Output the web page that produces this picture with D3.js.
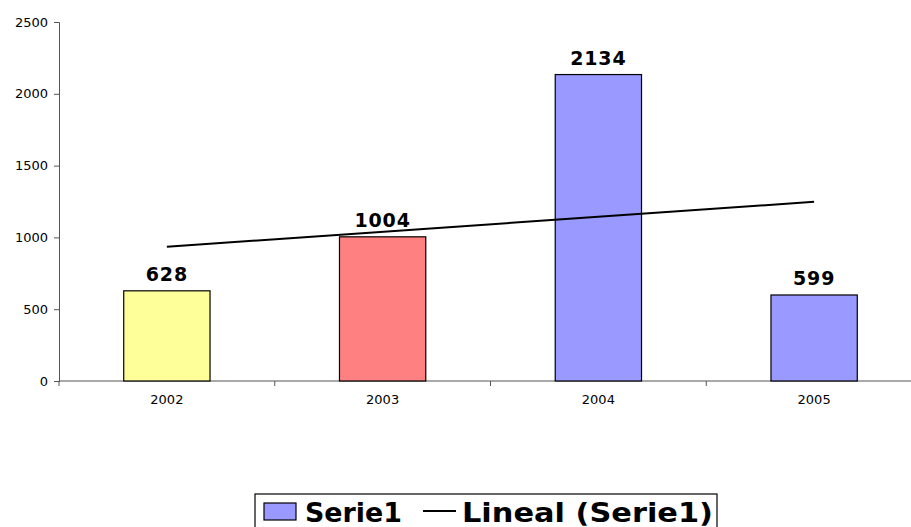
<!DOCTYPE html>
<html>
<head>
<meta charset="utf-8">
<script src="https://cdn.jsdelivr.net/npm/d3@7"></script>
<style>
  body { margin: 0; background: #fff; }
  svg { display: block; }
</style>
</head>
<body>
<div id="chart"></div>
<script>
  // data
  var years = ['2002', '2003', '2004', '2005'];
  var values = [628, 1004, 2134, 599];
  var barColors = ['#ffff99', '#ff8080', '#9999ff', '#9999ff'];
  var yTicks = [0, 500, 1000, 1500, 2000, 2500];
  var seriesName = 'Serie1';
  var trendName = 'Lineal (Serie1)';

  var width = 911, height = 527;
  var plotLeft = 59, plotTop = 22, plotRight = 922, plotBottom = 381;

  var svg = d3.select('#chart').append('svg')
      .attr('width', width)
      .attr('height', height);

  var x = d3.scaleBand().domain(years).range([plotLeft, plotRight])
      .paddingInner(0.6).paddingOuter(0.3);
  var y = d3.scaleLinear().domain([0, 2500]).range([plotBottom, plotTop]);

  // y axis
  var yAxis = svg.append('g')
      .attr('transform', 'translate(' + plotLeft + ',0)')
      .call(d3.axisLeft(y).tickValues(yTicks).tickFormat(d3.format('d'))
        .tickSize(5).tickPadding(6));
  yAxis.select('.domain').attr('stroke', '#555');
  yAxis.selectAll('.tick line').attr('stroke', '#555');
  yAxis.selectAll('text')
      .attr('font-family', 'DejaVu Sans')
      .attr('font-size', 13)
      .attr('fill', '#000');

  // x axis line + ticks at band boundaries
  svg.append('line')
      .attr('x1', plotLeft).attr('x2', width)
      .attr('y1', plotBottom).attr('y2', plotBottom)
      .attr('stroke', '#555');
  var step = x.step();
  var bounds = d3.range(years.length + 1).map(function(i) { return plotLeft + i * step; });
  svg.selectAll('.xtick').data(bounds).enter().append('line')
      .attr('class', 'xtick')
      .attr('x1', function(d) { return d; }).attr('x2', function(d) { return d; })
      .attr('y1', plotBottom).attr('y2', plotBottom + 5)
      .attr('stroke', '#555');
  svg.selectAll('.xlabel').data(years).enter().append('text')
      .attr('class', 'xlabel')
      .attr('x', function(d) { return x(d) + x.bandwidth() / 2; })
      .attr('y', plotBottom + 23)
      .attr('text-anchor', 'middle')
      .attr('font-family', 'DejaVu Sans')
      .attr('font-size', 13)
      .text(function(d) { return d; });

  // bars
  svg.selectAll('.bar').data(values).enter().append('rect')
      .attr('class', 'bar')
      .attr('x', function(d, i) { return x(years[i]); })
      .attr('y', function(d) { return y(d); })
      .attr('width', x.bandwidth())
      .attr('height', function(d) { return plotBottom - y(d); })
      .attr('fill', function(d, i) { return barColors[i]; })
      .attr('stroke', '#000')
      .attr('stroke-width', 1.2);

  // value labels
  svg.selectAll('.vlabel').data(values).enter().append('text')
      .attr('class', 'vlabel')
      .attr('x', function(d, i) { return x(years[i]) + x.bandwidth() / 2; })
      .attr('y', function(d) { return y(d) - 10; })
      .attr('text-anchor', 'middle')
      .attr('font-family', 'DejaVu Sans')
      .attr('font-weight', 'bold')
      .attr('font-size', 19)
      .attr('letter-spacing', 0.8)
      .text(function(d) { return d; });

  // linear trend (least squares over the series)
  var xs = values.map(function(d, i) { return i + 1; });
  var mx = d3.mean(xs), my = d3.mean(values);
  var slope = d3.sum(xs, function(v, i) { return (v - mx) * (values[i] - my); }) /
              d3.sum(xs, function(v) { return (v - mx) * (v - mx); });
  var icpt = my - slope * mx;
  var trend = years.map(function(yr, i) {
    return [x(yr) + x.bandwidth() / 2, y(icpt + slope * (i + 1))];
  });
  svg.append('path')
      .datum([trend[0], trend[trend.length - 1]])
      .attr('d', d3.line())
      .attr('fill', 'none')
      .attr('stroke', '#000')
      .attr('stroke-width', 2);

  // legend
  var lg = svg.append('g').attr('transform', 'translate(255,494)');
  lg.append('rect')
      .attr('width', 462).attr('height', 40)
      .attr('fill', '#fff').attr('stroke', '#000').attr('stroke-width', 1.2);
  lg.append('rect')
      .attr('x', 9).attr('y', 9).attr('width', 32).attr('height', 17)
      .attr('fill', '#9999ff').attr('stroke', '#000').attr('stroke-width', 1.2);
  lg.append('text')
      .attr('x', 50).attr('y', 28)
      .attr('font-family', 'DejaVu Sans').attr('font-weight', 'bold')
      .attr('font-size', 27).attr('textLength', 97)
      .attr('lengthAdjust', 'spacingAndGlyphs')
      .text(seriesName);
  lg.append('line')
      .attr('x1', 168).attr('x2', 201).attr('y1', 17).attr('y2', 17)
      .attr('stroke', '#000').attr('stroke-width', 2);
  lg.append('text')
      .attr('x', 207).attr('y', 28)
      .attr('font-family', 'DejaVu Sans').attr('font-weight', 'bold')
      .attr('font-size', 27).attr('textLength', 251)
      .attr('lengthAdjust', 'spacingAndGlyphs')
      .text(trendName);
</script>
</body>
</html>
